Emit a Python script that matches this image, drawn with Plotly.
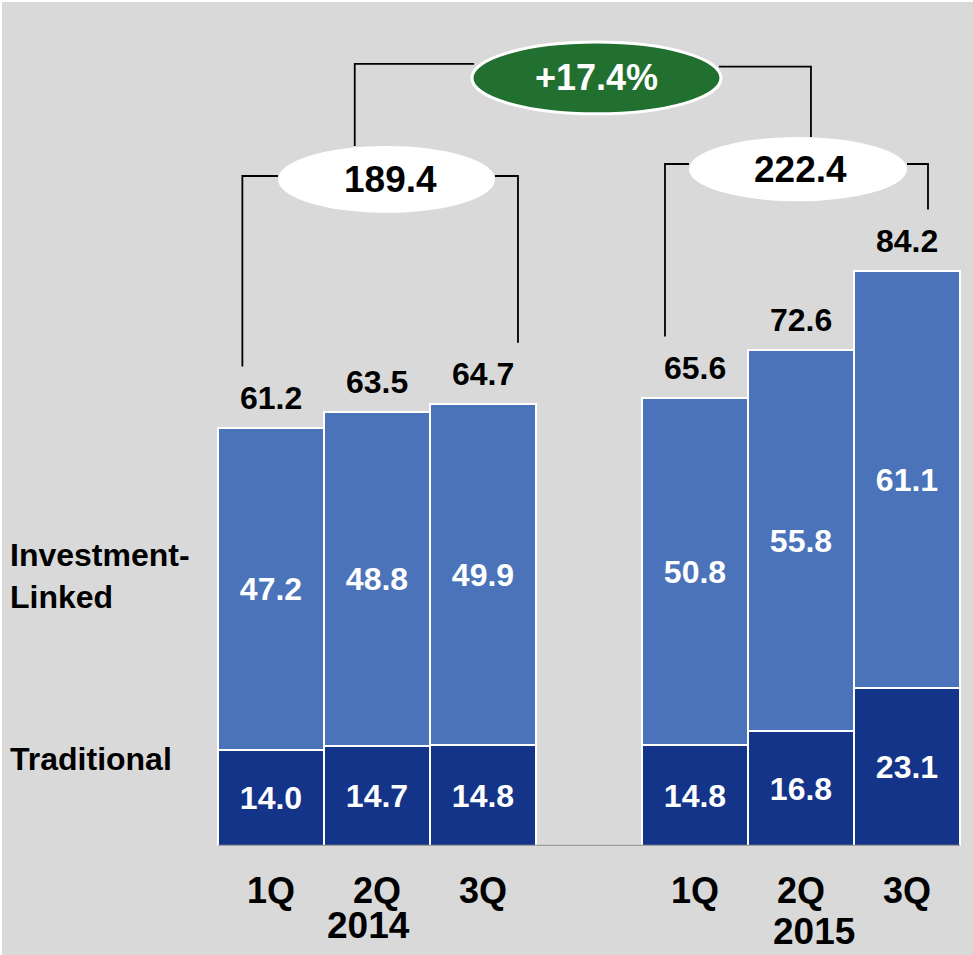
import plotly.graph_objects as go

# Quarterly new business premiums, split by product type
quarters = ["1Q", "2Q", "3Q", "1Q", "2Q", "3Q"]
positions = [0, 1, 2, 4, 5, 6]          # a one-slot gap separates the two years
traditional = [14.0, 14.7, 14.8, 14.8, 16.8, 23.1]
investment_linked = [47.2, 48.8, 49.9, 50.8, 55.8, 61.1]
totals = [61.2, 63.5, 64.7, 65.6, 72.6, 84.2]
year_labels = ["2014", "2015"]
year_totals = ["189.4", "222.4"]
growth_label = "+17.4%"

FONT = "Liberation Sans, Arial, sans-serif"
BG = "#d9d9d9"
LIGHT = "#4a73ba"
DARK = "#133488"
GREEN = "#217030"

PLOT_H = 846  # pixel height of the plotting area

fig = go.Figure()

fig.add_trace(go.Bar(
    x=positions, y=traditional, width=1.0, name="Traditional",
    marker=dict(color=DARK, line=dict(color="white", width=2)),
    texttemplate="%{y:.1f}", textposition="inside", insidetextanchor="middle",
    textangle=0, textfont=dict(family=FONT, size=32, color="white", weight="bold"),
    hoverinfo="skip",
))
fig.add_trace(go.Bar(
    x=positions, y=investment_linked, width=1.0, name="Investment-Linked",
    marker=dict(color=LIGHT, line=dict(color="white", width=2)),
    texttemplate="%{y:.1f}", textposition="inside", insidetextanchor="middle",
    textangle=0, textfont=dict(family=FONT, size=32, color="white", weight="bold"),
    hoverinfo="skip",
))

annotations = []
# totals above each stack
for xp, tot in zip(positions, totals):
    annotations.append(dict(
        x=xp, y=tot, xref="x", yref="y", text=f"{tot:.1f}", showarrow=False,
        yanchor="middle", yshift=30,
        font=dict(family=FONT, size=32, color="black", weight="bold"),
    ))
# quarter labels under the bars (below the axis, so placed in paper units)
for xp, q in zip(positions, quarters):
    annotations.append(dict(
        x=xp, y=-44 / PLOT_H, xref="x", yref="paper", text=q, showarrow=False,
        yanchor="middle", font=dict(family=FONT, size=36, color="black", weight="bold"),
    ))
# year labels
for xp, dy, lab in [(0.92, 80, year_labels[0]), (5.12, 85, year_labels[1])]:
    annotations.append(dict(
        x=xp, y=-dy / PLOT_H, xref="x", yref="paper", text=lab, showarrow=False,
        yanchor="middle", font=dict(family=FONT, size=37, color="black", weight="bold"),
    ))
# series names on the left
annotations.append(dict(
    x=8 / 973, y=39.5, xref="paper", yref="y", text="Investment-<br>Linked",
    showarrow=False, xanchor="left", yanchor="middle", align="left",
    font=dict(family=FONT, size=32, color="black", weight="bold"),
))
annotations.append(dict(
    x=8 / 973, y=12.7, xref="paper", yref="y", text="Traditional",
    showarrow=False, xanchor="left", yanchor="middle", align="left",
    font=dict(family=FONT, size=32, color="black", weight="bold"),
))

# yearly totals in ovals and the growth bubble
oval_2014 = dict(x0=0.066, x1=2.113, y0=92.7, y1=102.5)
oval_2015 = dict(x0=3.943, x1=6.0, y0=94.4, y1=103.8)
oval_growth = dict(x0=1.896, x1=4.245, y0=107.2, y1=117.7)

shapes = []
for ov, fill, lw in [(oval_2014, "white", 0), (oval_2015, "white", 0), (oval_growth, GREEN, 3)]:
    shapes.append(dict(type="circle", xref="x", yref="y", fillcolor=fill,
                       line=dict(color="white", width=lw), layer="above", **ov))

for ov, lab, col, dx in [(oval_2014, year_totals[0], "black", 0.04),
                         (oval_2015, year_totals[1], "black", 0.02),
                         (oval_growth, growth_label, "white", 0.0)]:
    annotations.append(dict(
        x=(ov["x0"] + ov["x1"]) / 2 + dx, y=(ov["y0"] + ov["y1"]) / 2, xref="x", yref="y",
        text=lab, showarrow=False, yanchor="middle",
        font=dict(family=FONT, size=37 if col == "black" else 36, color=col, weight="bold"),
    ))

# bracket connectors
line_style = dict(color="black", width=1.8)
gap = 9.0  # clearance between a bracket end and the total label
h14 = 98.1
h15 = 99.85
paths = [
    # 2014 bracket
    ([(-0.27, totals[0] + gap), (-0.27, h14), (oval_2014["x0"], h14)]),
    ([(oval_2014["x1"], h14), (2.33, h14), (2.33, totals[2] + gap)]),
    # 2015 bracket
    ([(3.717, totals[3] + gap), (3.717, h15), (oval_2015["x0"], h15)]),
    ([(oval_2015["x1"], h15), (6.198, h15), (6.198, totals[5] + gap)]),
    # links to growth bubble
    ([(0.79, oval_2014["y1"]), (0.79, 114.5), (oval_growth["x0"] + 0.02, 114.5)]),
    ([(oval_growth["x1"] - 0.02, 114.1), (5.094, 114.1), (5.094, oval_2015["y1"])]),
]
for pts in paths:
    d = "M " + " L ".join(f"{px},{py}" for px, py in pts)
    shapes.insert(0, dict(type="path", path=d, xref="x", yref="y", line=line_style, layer="above"))

# baseline
shapes.append(dict(type="line", xref="x", yref="y", x0=-0.5, x1=6.5, y0=0, y1=0,
                   line=dict(color="#9e9e9e", width=2.5), layer="above"))
# thin white frame along the top and left edges
shapes.append(dict(type="line", xref="paper", yref="paper", x0=0, x1=1, y0=1, y1=1,
                   line=dict(color="white", width=4)))
shapes.append(dict(type="line", xref="paper", yref="paper", x0=0, x1=0, y0=-0.13, y1=1,
                   line=dict(color="white", width=4)))

fig.update_layout(
    width=973, height=955,
    margin=dict(l=0, r=0, t=0, b=955 - PLOT_H),
    paper_bgcolor=BG, plot_bgcolor=BG,
    barmode="stack", bargap=0,
    showlegend=False,
    xaxis=dict(range=[-271 / 106, (973 - 271) / 106], visible=False, fixedrange=True),
    yaxis=dict(range=[0, PLOT_H / 6.83], visible=False, fixedrange=True),
    annotations=annotations,
    shapes=shapes,
)

fig.write_html("out.html")
